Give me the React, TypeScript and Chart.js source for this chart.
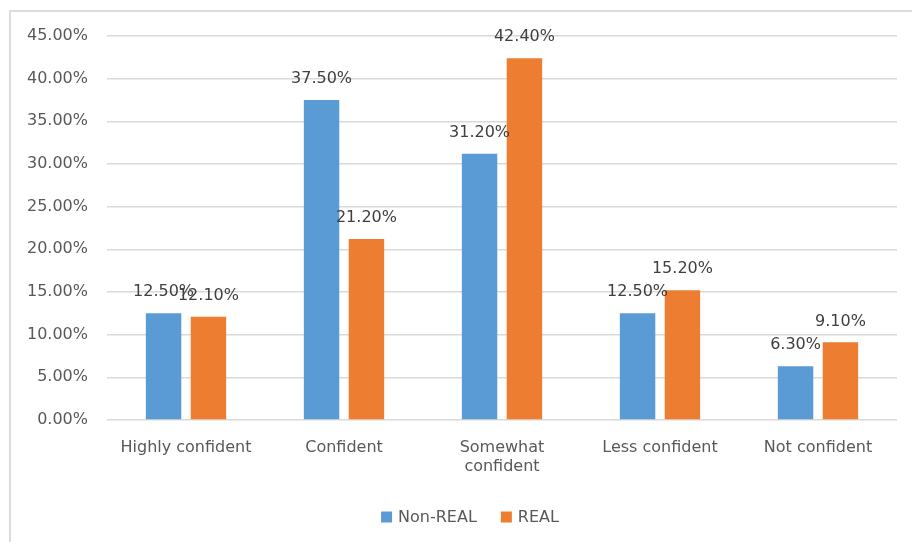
import React, { useEffect, useRef } from "react";
import { Chart, registerables } from "chart.js";

Chart.register(...registerables);

const categories: (string | string[])[] = [
  "Highly confident",
  "Confident",
  ["Somewhat", "confident"],
  "Less confident",
  "Not confident",
];
const nonRealValues = [12.5, 37.5, 31.2, 12.5, 6.3];
const realValues = [12.1, 21.2, 42.4, 15.2, 9.1];
const seriesNames = ["Non-REAL", "REAL"];
const seriesColors = ["#5B9BD5", "#ED7D31"];
const yMax = 45;
const yStep = 5;

const FONT = "'DejaVu Sans', sans-serif";
const TEXT_SIZE = 16;

// Writes each bar's value just above it
const valueLabels = {
  id: "valueLabels",
  afterDatasetsDraw(chart: any) {
    const ctx = chart.ctx;
    ctx.save();
    ctx.font = `${TEXT_SIZE}px ${FONT}`;
    ctx.fillStyle = "#404040";
    ctx.textAlign = "center";
    ctx.textBaseline = "middle";
    chart.data.datasets.forEach((ds: any, di: number) => {
      const meta = chart.getDatasetMeta(di);
      meta.data.forEach((bar: any, i: number) => {
        const v = ds.data[i] as number;
        ctx.fillText(v.toFixed(2) + "%", bar.x, bar.y - 21);
      });
    });
    ctx.restore();
  },
};

// Series key centred under the plot: square swatch then name
const bottomLegend = {
  id: "bottomLegend",
  afterDraw(chart: any) {
    const ctx = chart.ctx;
    ctx.save();
    ctx.font = `${TEXT_SIZE}px ${FONT}`;
    ctx.textBaseline = "middle";
    ctx.textAlign = "left";
    const box = 11;
    const gapText = 6;
    const gapItem = 24;
    const items = chart.data.datasets.map((ds: any) => ({
      text: ds.label as string,
      color: ds.backgroundColor as string,
      w: box + gapText + ctx.measureText(ds.label).width,
    }));
    const total =
      items.reduce((s: number, it: any) => s + it.w, 0) + gapItem * (items.length - 1);
    const cy = chart.chartArea.bottom + 97;
    let x = 470 - total / 2;
    items.forEach((it: any) => {
      ctx.fillStyle = it.color;
      ctx.fillRect(x, cy - box / 2, box, box);
      ctx.fillStyle = "#595959";
      ctx.fillText(it.text, x + box + gapText, cy + 1);
      x += it.w + gapItem;
    });
    ctx.restore();
  },
};

export default function App() {
  const canvasRef = useRef<HTMLCanvasElement | null>(null);

  useEffect(() => {
    if (!canvasRef.current) return;
    const chart = new Chart(canvasRef.current, {
      type: "bar",
      data: {
        labels: categories,
        datasets: [
          {
            label: seriesNames[0],
            data: nonRealValues,
            backgroundColor: seriesColors[0],
            categoryPercentage: 0.568,
            barPercentage: 0.79,
          },
          {
            label: seriesNames[1],
            data: realValues,
            backgroundColor: seriesColors[1],
            categoryPercentage: 0.568,
            barPercentage: 0.79,
          },
        ],
      },
      options: {
        responsive: false,
        animation: false,
        layout: { padding: { top: 36, right: 15, bottom: 6, left: 0 } },
        plugins: {
          legend: { display: false },
          tooltip: { enabled: false },
        },
        scales: {
          x: {
            grid: { display: false, drawTicks: false },
            border: { display: false },
            ticks: {
              color: "#595959",
              font: { family: FONT, size: TEXT_SIZE },
              padding: 18,
              maxRotation: 0,
              autoSkip: false,
            },
            afterFit(scale: any) {
              scale.height = 116;
            },
          },
          y: {
            min: 0,
            max: yMax,
            grid: { color: "#d9d9d9", lineWidth: 1.5, drawTicks: false },
            border: { display: false },
            ticks: {
              stepSize: yStep,
              color: "#595959",
              font: { family: FONT, size: TEXT_SIZE },
              padding: 19,
              callback: (v: any) => Number(v).toFixed(2) + "%",
            },
            afterFit(scale: any) {
              scale.width = 107;
            },
          },
        },
      },
      plugins: [valueLabels, bottomLegend],
    });
    return () => chart.destroy();
  }, []);

  return (
    <div
      style={{
        position: "fixed",
        left: 0,
        top: 0,
        width: 912,
        height: 542,
        background: "#ffffff",
        overflow: "hidden",
      }}
    >
      <div
        style={{
          position: "absolute",
          left: 9,
          top: 10,
          width: 940,
          height: 600,
          border: "2px solid #dcdcdc",
          pointerEvents: "none",
        }}
      />
      <canvas
        ref={canvasRef}
        width={912}
        height={542}
        style={{ position: "absolute", left: 0, top: 0 }}
      />
    </div>
  );
}
